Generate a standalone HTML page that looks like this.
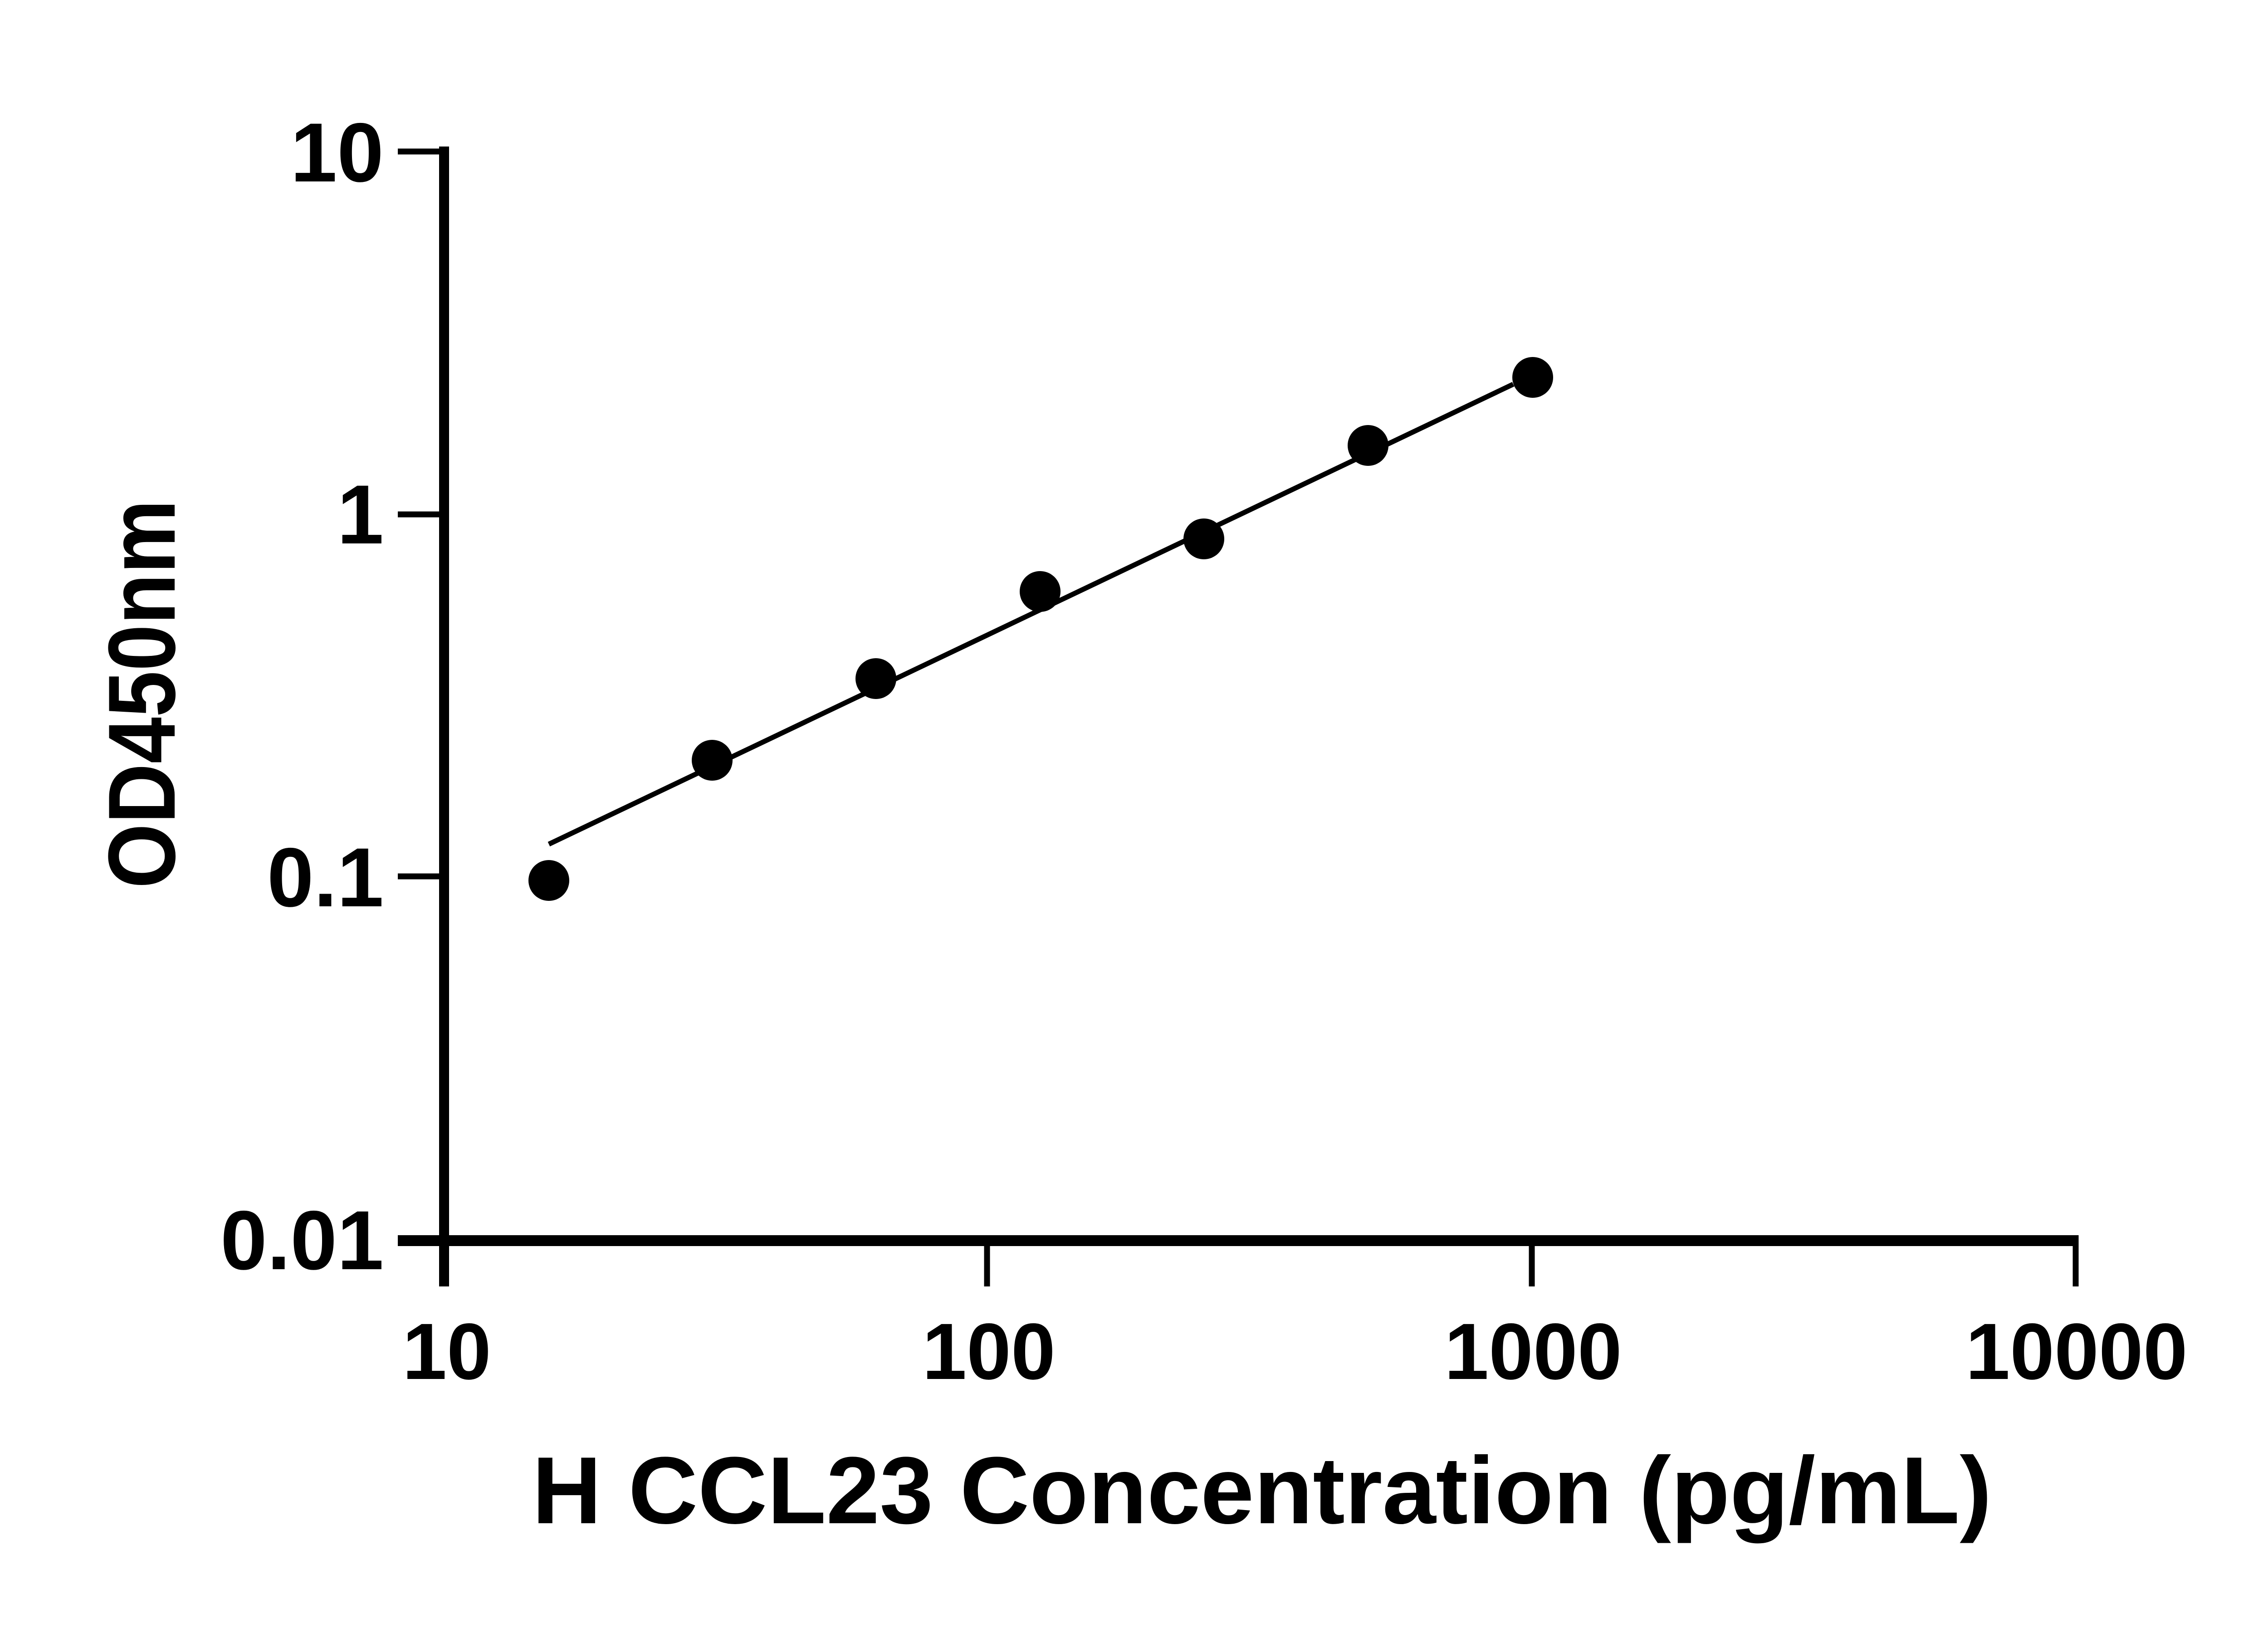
<!DOCTYPE html>
<html><head><meta charset="utf-8"><style>html,body{margin:0;padding:0;background:#fff}svg{display:block}</style></head>
<body>
<svg width="5130" height="3600" viewBox="0 0 5130 3600" xmlns="http://www.w3.org/2000/svg">
<rect width="5130" height="3600" fill="#fff"/>
<g stroke="#000" fill="none">
<line x1="979" y1="323" x2="979" y2="2836" stroke-width="22"/>
<line x1="877" y1="2735" x2="4576" y2="2735" stroke-width="24"/>
<g stroke-width="13">
<line x1="877" y1="334" x2="979" y2="334"/>
<line x1="877" y1="1134" x2="979" y2="1134"/>
<line x1="877" y1="1932" x2="979" y2="1932"/>
<line x1="2176" y1="2735" x2="2176" y2="2836"/>
<line x1="3377" y1="2735" x2="3377" y2="2836"/>
<line x1="4576" y1="2723" x2="4576" y2="2836"/>
</g>
<line x1="1210" y1="1861" x2="3336" y2="847" stroke-width="11"/>
</g>
<g fill="#000">
<circle cx="1210" cy="1941" r="45"/>
<circle cx="1570" cy="1676" r="45"/>
<circle cx="1931" cy="1496" r="45"/>
<circle cx="2293" cy="1304" r="45"/>
<circle cx="2654" cy="1188" r="45"/>
<circle cx="3016" cy="982" r="45"/>
<circle cx="3379" cy="832" r="45"/>
</g>
<g font-family="Liberation Sans, sans-serif" font-weight="bold" font-size="185" text-anchor="end">
<text x="846" y="400">10</text>
<text x="846" y="1198">1</text>
<text x="846" y="1998">0.1</text>
<text x="846" y="2798">0.01</text>
</g>
<g font-family="Liberation Sans, sans-serif" font-weight="bold" font-size="176" text-anchor="middle">
<text x="985" y="3040">10</text>
<text x="2180" y="3040">100</text>
<text x="3380" y="3040">1000</text>
<text x="4578" y="3040">10000</text>
</g>
<text x="1173" y="3358" font-family="Liberation Sans, sans-serif" font-weight="bold" font-size="210" textLength="3218" lengthAdjust="spacingAndGlyphs">H CCL23 Concentration (pg/mL)</text>
<text transform="translate(385,1530) rotate(-90)" text-anchor="middle" font-family="Liberation Sans, sans-serif" font-weight="bold" font-size="210" textLength="857" lengthAdjust="spacingAndGlyphs">OD450nm</text>
</svg>
</body></html>
